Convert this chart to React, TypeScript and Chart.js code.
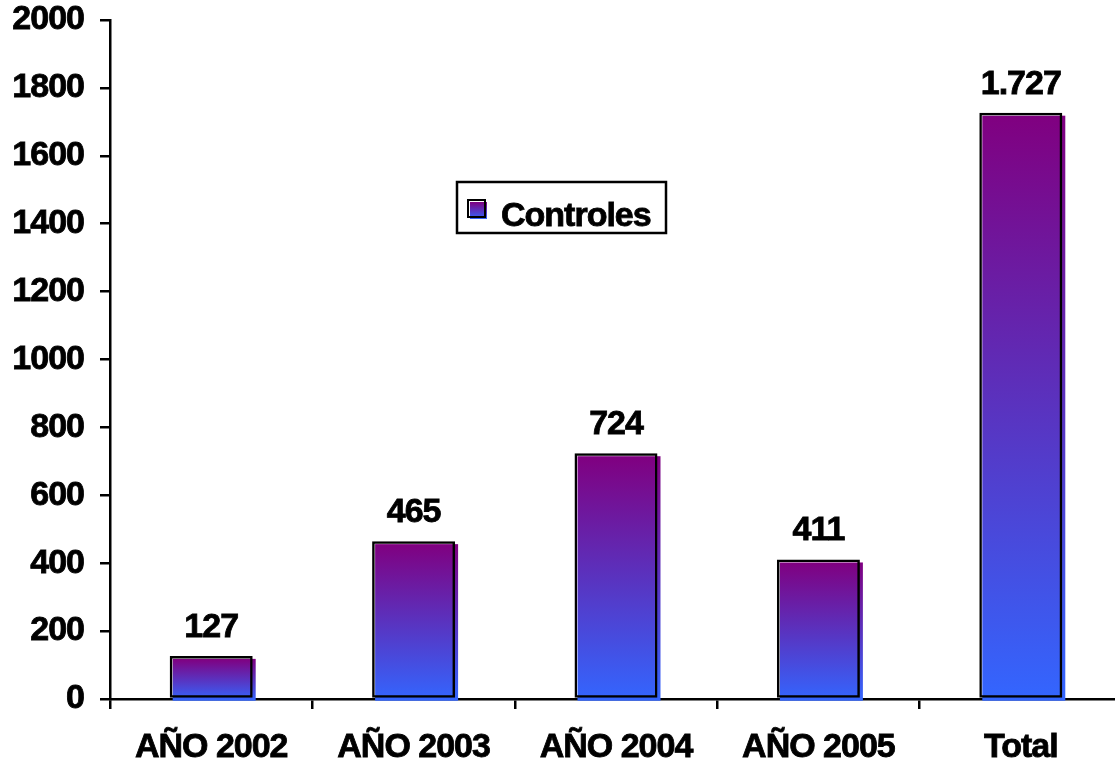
import React, { useEffect, useRef } from 'react';
import { Chart, registerables } from 'chart.js';

Chart.register(...registerables);

const categories = ['AÑO 2002', 'AÑO 2003', 'AÑO 2004', 'AÑO 2005', 'Total'];
const controles = [127, 465, 724, 411, 1727];
const seriesName = 'Controles';
const yMin = 0;
const yMax = 2000;
const yStep = 200;

const FONT = "'Liberation Sans', Arial, Helvetica, sans-serif";
const FSIZE = 34;
const SPACING = '-1px';
const STROKE = 0.8;
const PURPLE = '#800080';
const BLUE = '#3366ff';
const SHIFT = 3;

function fmt(v: number): string {
  if (v >= 1000) {
    return Math.floor(v / 1000) + '.' + String(v % 1000).padStart(3, '0');
  }
  return String(v);
}

const tightText = {
  id: 'tightText',
  beforeLayout(chart: any) {
    chart.ctx.letterSpacing = SPACING;
  },
  beforeDraw(chart: any) {
    chart.ctx.letterSpacing = SPACING;
  },
};

const shiftedFill = {
  id: 'shiftedFill',
  beforeDatasetsDraw(chart: any) {
    const ctx = chart.ctx;
    const meta = chart.getDatasetMeta(0);
    ctx.save();
    meta.data.forEach((el: any) => {
      const { x, y, base, width } = el.getProps(['x', 'y', 'base', 'width'], true);
      const g = ctx.createLinearGradient(0, y + SHIFT, 0, base + SHIFT);
      g.addColorStop(0, PURPLE);
      g.addColorStop(1, BLUE);
      ctx.fillStyle = g;
      ctx.fillRect(x - width / 2 + SHIFT, y + SHIFT, width, base - y);
    });
    ctx.restore();
  },
};

function boldText(ctx: any, text: string, x: number, y: number) {
  ctx.fillText(text, x, y);
  ctx.lineWidth = STROKE;
  ctx.strokeStyle = '#000';
  ctx.strokeText(text, x, y);
}

const valueLabels = {
  id: 'valueLabels',
  afterDatasetsDraw(chart: any) {
    const ctx = chart.ctx;
    const meta = chart.getDatasetMeta(0);
    const data = chart.data.datasets[0].data as number[];
    ctx.save();
    ctx.letterSpacing = SPACING;
    ctx.font = `bold ${FSIZE}px ${FONT}`;
    ctx.fillStyle = '#000';
    ctx.textAlign = 'center';
    ctx.textBaseline = 'alphabetic';
    meta.data.forEach((el: any, i: number) => {
      const { x, y } = el.getProps(['x', 'y'], true);
      boldText(ctx, fmt(data[i]), x, y - 19);
    });
    ctx.restore();
  },
};

const boxLegend = {
  id: 'boxLegend',
  afterDraw(chart: any) {
    const ctx = chart.ctx;
    ctx.save();
    ctx.letterSpacing = SPACING;
    ctx.lineWidth = 2.5;
    ctx.strokeStyle = '#000';
    ctx.strokeRect(457, 182, 209, 51);
    const sx = 468, sy = 200, ss = 17;
    const g = ctx.createLinearGradient(0, sy + 2, 0, sy + ss + 2);
    g.addColorStop(0, PURPLE);
    g.addColorStop(1, BLUE);
    ctx.fillStyle = g;
    ctx.fillRect(sx + 2, sy + 2, ss, ss);
    ctx.lineWidth = 2;
    ctx.strokeRect(sx, sy, ss, ss);
    ctx.font = `bold ${FSIZE}px ${FONT}`;
    ctx.fillStyle = '#000';
    ctx.textAlign = 'left';
    ctx.textBaseline = 'alphabetic';
    boldText(ctx, chart.data.datasets[0].label, 501, 226);
    ctx.restore();
  },
};

export default function App() {
  const ref = useRef<HTMLCanvasElement | null>(null);

  useEffect(() => {
    if (!ref.current) return;
    const chart = new Chart(ref.current, {
      type: 'bar',
      data: {
        labels: categories,
        datasets: [
          {
            label: seriesName,
            data: controles,
            backgroundColor: 'rgba(0,0,0,0)',
            borderColor: '#000',
            borderWidth: 2.5,
            borderSkipped: false,
            barPercentage: 0.41,
            categoryPercentage: 1,
          },
        ],
      },
      options: {
        responsive: false,
        animation: false,
        devicePixelRatio: 1,
        layout: { padding: { left: 0, top: 20, right: 8, bottom: 0 } },
        plugins: {
          legend: { display: false },
          tooltip: { enabled: false },
        },
        scales: {
          x: {
            z: 1,
            grid: {
              drawOnChartArea: false,
              drawTicks: true,
              tickLength: 10,
              color: '#000',
              lineWidth: 2.5,
            },
            border: { color: '#000', width: 2.5 },
            ticks: {
              color: '#000',
              font: { family: FONT, size: FSIZE, weight: 'bold' },
              textStrokeColor: '#000',
              textStrokeWidth: STROKE,
              padding: 18,
              maxRotation: 0,
              autoSkip: false,
            },
            afterFit: (s: any) => {
              s.height = 74;
              s.paddingLeft = 0;
              s.paddingRight = 0;
            },
          },
          y: {
            min: yMin,
            max: yMax,
            grid: {
              drawOnChartArea: false,
              drawTicks: true,
              tickLength: 10,
              color: '#000',
              lineWidth: 2.5,
            },
            border: { color: '#000', width: 2.5 },
            ticks: {
              stepSize: yStep,
              color: '#000',
              font: { family: FONT, size: FSIZE, weight: 'bold' },
              textStrokeColor: '#000',
              textStrokeWidth: STROKE,
              padding: 16,
              callback: (v: any) => String(v),
            },
            afterFit: (s: any) => {
              s.width = 110;
              s.paddingTop = 0;
              s.paddingBottom = 0;
            },
          },
        },
      },
      plugins: [tightText, shiftedFill, valueLabels, boxLegend],
    });
    return () => chart.destroy();
  }, []);

  return (
    <div
      style={{
        position: 'absolute',
        left: 0,
        top: 0,
        width: 1115,
        height: 773,
        overflow: 'hidden',
        background: '#fff',
      }}
    >
      <canvas ref={ref} width={1130} height={773} style={{ display: 'block', width: 1130, height: 773 }} />
    </div>
  );
}
